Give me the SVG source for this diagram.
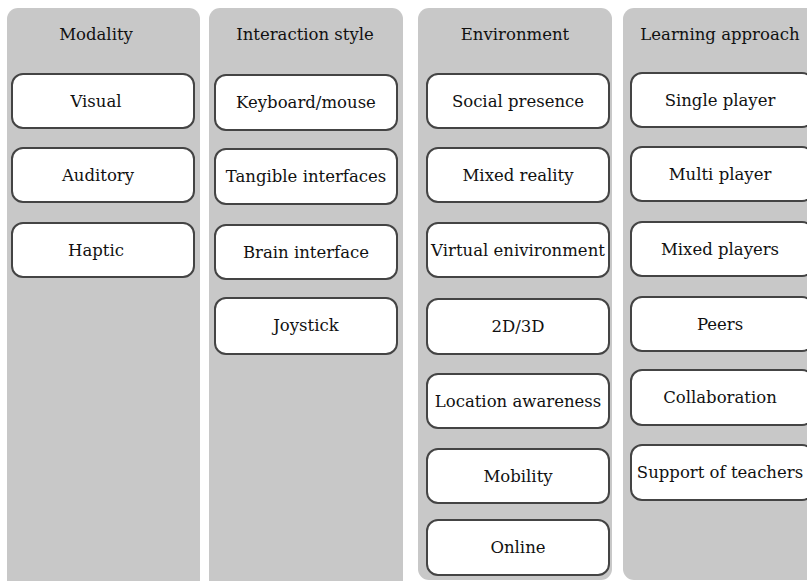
<svg xmlns="http://www.w3.org/2000/svg" width="807" height="581" viewBox="0 0 807 581">
<defs>
<style>
.panel{fill:#c8c8c8;stroke:none}
.box{fill:#ffffff;stroke:#444444;stroke-width:2}
.c{font-family:'DejaVu Serif',serif;font-size:16.5px;fill:#111111;text-anchor:middle}
</style>
</defs>
<rect width="807" height="581" fill="#ffffff"/>
<g id="col-modality" class="c">
<rect class="panel" x="7" y="8" width="193" height="590" rx="11"/>
<text x="96" y="40">Modality</text>
<g id="n-visual"><rect class="box" x="12" y="74" width="182" height="54" rx="11"/><text x="96" y="107">Visual</text></g>
<g id="n-auditory"><rect class="box" x="12" y="148" width="182" height="54" rx="11"/><text x="98" y="181">Auditory</text></g>
<g id="n-haptic"><rect class="box" x="12" y="223" width="182" height="54" rx="11"/><text x="96" y="256">Haptic</text></g>
</g>
<g id="col-interaction" class="c">
<rect class="panel" x="209" y="8" width="194" height="590" rx="11"/>
<text x="305" y="40">Interaction style</text>
<g id="n-keyboard"><rect class="box" x="215" y="75" width="182" height="55" rx="11"/><text x="306" y="108">Keyboard/mouse</text></g>
<g id="n-tangible"><rect class="box" x="215" y="149" width="182" height="55" rx="11"/><text x="306" y="182">Tangible interfaces</text></g>
<g id="n-brain"><rect class="box" x="215" y="225" width="182" height="54" rx="11"/><text x="306" y="258">Brain interface</text></g>
<g id="n-joystick"><rect class="box" x="215" y="298" width="182" height="56" rx="11"/><text x="306" y="331">Joystick</text></g>
</g>
<g id="col-environment" class="c">
<rect class="panel" x="418" y="8" width="194" height="572" rx="11"/>
<text x="515" y="40">Environment</text>
<g id="n-social"><rect class="box" x="427" y="74" width="182" height="54" rx="11"/><text x="518" y="107">Social presence</text></g>
<g id="n-mixedreality"><rect class="box" x="427" y="148" width="182" height="54" rx="11"/><text x="518" y="181">Mixed reality</text></g>
<g id="n-virtual"><rect class="box" x="427" y="223" width="182" height="54" rx="11"/><text x="518" y="256">Virtual enivironment</text></g>
<g id="n-2d3d"><rect class="box" x="427" y="299" width="182" height="55" rx="11"/><text x="518" y="332">2D/3D</text></g>
<g id="n-location"><rect class="box" x="427" y="374" width="182" height="54" rx="11"/><text x="518" y="407">Location awareness</text></g>
<g id="n-mobility"><rect class="box" x="427" y="449" width="182" height="54" rx="11"/><text x="518" y="482">Mobility</text></g>
<g id="n-online"><rect class="box" x="427" y="520" width="182" height="55" rx="11"/><text x="518" y="553">Online</text></g>
</g>
<g id="col-learning" class="c">
<rect class="panel" x="623" y="8" width="194" height="572" rx="11"/>
<text x="720" y="40">Learning approach</text>
<g id="n-single"><rect class="box" x="631" y="73" width="182" height="54" rx="11"/><text x="720" y="106">Single player</text></g>
<g id="n-multi"><rect class="box" x="631" y="147" width="182" height="54" rx="11"/><text x="720" y="180">Multi player</text></g>
<g id="n-mixedplayers"><rect class="box" x="631" y="222" width="182" height="54" rx="11"/><text x="720" y="255">Mixed players</text></g>
<g id="n-peers"><rect class="box" x="631" y="297" width="182" height="54" rx="11"/><text x="720" y="330">Peers</text></g>
<g id="n-collab"><rect class="box" x="631" y="370" width="182" height="55" rx="11"/><text x="720" y="403">Collaboration</text></g>
<g id="n-support"><rect class="box" x="631" y="445" width="182" height="55" rx="11"/><text x="720" y="478">Support of teachers</text></g>
</g>
<g id="connectors"></g>
</svg>
